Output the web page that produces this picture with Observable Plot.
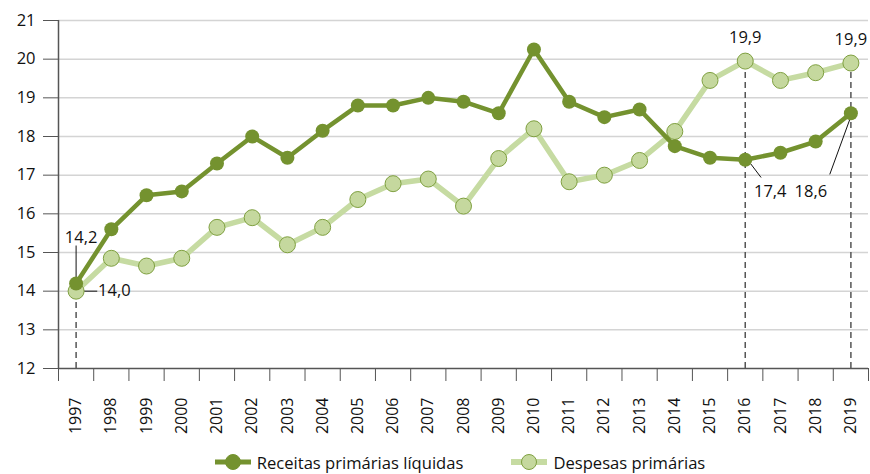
<!DOCTYPE html>
<html>
<head>
<meta charset="utf-8">
<script src="https://cdn.jsdelivr.net/npm/d3@7"></script>
<script src="https://cdn.jsdelivr.net/npm/@observablehq/plot@0.6"></script>
<style>
  body { margin: 0; background: #fff; font-family: "Open Sans", sans-serif; }
  #legend { display: flex; justify-content: center; align-items: center; gap: 20px; height: 24px; font-size: 16.6px; color: #111; margin-left: 50px; }
  #legend span { display: inline-flex; align-items: center; gap: 6px; }
</style>
</head>
<body>
<div id="chart"></div>
<div id="legend"></div>
<script>
const years = [1997,1998,1999,2000,2001,2002,2003,2004,2005,2006,2007,2008,2009,2010,2011,2012,2013,2014,2015,2016,2017,2018,2019];
const receitas = [14.2,15.6,16.48,16.58,17.3,18.0,17.45,18.15,18.8,18.8,19.0,18.9,18.6,20.25,18.9,18.5,18.7,17.75,17.45,17.4,17.58,17.87,18.6];
const despesas = [14.0,14.85,14.65,14.85,15.65,15.9,15.2,15.65,16.37,16.78,16.9,16.2,17.43,18.2,16.83,17.0,17.38,18.13,19.45,19.95,19.45,19.65,19.9];
const yTicks = [12,13,14,15,16,17,18,19,20,21];
const seriesNames = ["Receitas primárias líquidas", "Despesas primárias"];

const dark = "#74922f", lightLine = "#c6dba2", lightFill = "#c5d89e", lightStroke = "#7fa040";

const rec = years.map((y, i) => ({year: y, value: receitas[i]}));
const des = years.map((y, i) => ({year: y, value: despesas[i]}));
const bounds = [...years.map(y => y - 0.5), years[years.length - 1] + 0.5];

const dashed = [
  {year: 1997, value: despesas[0]},
  {year: 2016, value: despesas[19]},
  {year: 2019, value: despesas[22]}
];
const annoTop = [
  {year: 2016, value: despesas[19], label: "19,9"},
  {year: 2019, value: despesas[22], label: "19,9"}
];

const fmt = v => v.toFixed(1).replace(".", ",");

const plot = Plot.plot({
  width: 870,
  height: 450,
  marginTop: 20,
  marginLeft: 58,
  marginRight: 2,
  marginBottom: 82,
  style: {fontFamily: "Open Sans, sans-serif", fontSize: "16px", color: "#111"},
  x: {domain: [1996.5, 2019.5], label: null},
  y: {domain: [12, 21], label: null},
  marks: [
    Plot.gridY(yTicks.slice(1), {stroke: "#d4d4d4", strokeOpacity: 1, strokeWidth: 1.5}),
    Plot.axisY({ticks: yTicks, tickSize: 15, tickPadding: 8, fontSize: 16.5, stroke: "#555", tickFormat: d => String(d)}),
    Plot.axisX({ticks: years, tickFormat: d => String(d), tickRotate: -90, tickSize: 0, tickPadding: 29, fontSize: 16}),
    Plot.axisX({ticks: bounds, tickSize: 13, tickFormat: () => "", stroke: "#555"}),
    Plot.ruleX([1996.5], {y1: 12, y2: 21, stroke: "#555", strokeWidth: 1.5}),
    Plot.ruleY([12], {stroke: "#555", strokeWidth: 1.5}),
    Plot.ruleX(dashed, {x: "year", y1: 12, y2: "value", stroke: "#555", strokeWidth: 1.5, strokeDasharray: "6,4"}),
    // leader lines
    Plot.link([{x1: 1997, y1: 14.28, x2: 1997, y2: 15.18}], {x1: "x1", y1: "y1", x2: "x2", y2: "y2", stroke: "#111", strokeWidth: 1}),
    Plot.link([{x1: 1997.22, y1: 14.0, x2: 1997.6, y2: 14.0}], {x1: "x1", y1: "y1", x2: "x2", y2: "y2", stroke: "#111", strokeWidth: 1}),
    Plot.link([{x1: 2016.15, y1: 17.3, x2: 2016.45, y2: 16.94}], {x1: "x1", y1: "y1", x2: "x2", y2: "y2", stroke: "#111", strokeWidth: 1}),
    Plot.link([{x1: 2019, y1: 18.52, x2: 2018.4, y2: 17.02}], {x1: "x1", y1: "y1", x2: "x2", y2: "y2", stroke: "#111", strokeWidth: 1}),
    // series
    Plot.line(des, {x: "year", y: "value", stroke: lightLine, strokeWidth: 5.5}),
    Plot.dot(des, {x: "year", y: "value", r: 8, fill: lightFill, stroke: lightStroke, strokeWidth: 1}),
    Plot.line(rec, {x: "year", y: "value", stroke: dark, strokeWidth: 4.5}),
    Plot.dot(rec, {x: "year", y: "value", r: 7, fill: dark}),
    // labels
    Plot.text([{year: 1997, value: receitas[0]}], {x: "year", y: "value", text: d => fmt(d.value), dy: -46, dx: 5, fontSize: 16.5, fill: "#111"}),
    Plot.text([{year: 1997, value: despesas[0]}], {x: "year", y: "value", text: d => fmt(d.value), dx: 22, textAnchor: "start", fontSize: 16.5, fill: "#111"}),
    Plot.text(annoTop, {x: "year", y: "value", text: "label", dy: -23, fontSize: 16.5, fill: "#111"}),
    Plot.text([{year: 2016, value: receitas[19]}], {x: "year", y: "value", text: d => fmt(d.value), dx: 25, dy: 32, fontSize: 16.5, fill: "#111"}),
    Plot.text([{year: 2019, value: receitas[22]}], {x: "year", y: "value", text: d => fmt(d.value), dx: -40, dy: 78, fontSize: 16.5, fill: "#111"})
  ]
});
document.getElementById("chart").appendChild(plot);

const legend = document.getElementById("legend");
const sym = (lineColor, lw, fill, stroke) =>
  `<svg width="36" height="18"><line x1="0" y1="9" x2="36" y2="9" stroke="${lineColor}" stroke-width="${lw}"/><circle cx="18" cy="9" r="7.5" fill="${fill}" stroke="${stroke}"/></svg>`;
legend.innerHTML =
  `<span>${sym(dark, 5, dark, dark)}${seriesNames[0]}</span>` +
  `<span style="margin-left:28px">${sym(lightLine, 6, lightFill, lightStroke)}${seriesNames[1]}</span>`;
</script>
</body>
</html>
